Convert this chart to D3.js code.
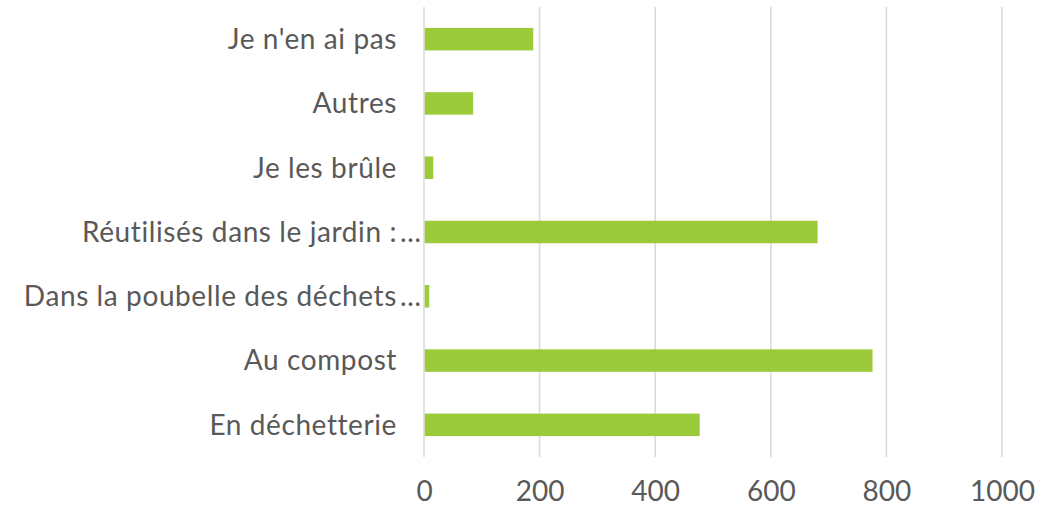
<!DOCTYPE html>
<html>
<head>
<meta charset="utf-8">
<script src="https://cdn.jsdelivr.net/npm/d3@7"></script>
<style>
  html, body { margin: 0; padding: 0; background: #fff; }
  svg text { font-family: Lato, "Noto Sans", sans-serif; fill: #595959; }
</style>
</head>
<body>
<div id="chart"></div>
<script>
const categories = ["Je n'en ai pas", "Autres", "Je les brûle", "Réutilisés dans le jardin :…",
                    "Dans la poubelle des déchets…", "Au compost", "En déchetterie"];
const values = [189, 85, 16, 681, 9, 776, 477];
const xTicks = [0, 200, 400, 600, 800, 1000];

const W = 1063, H = 512;
const margin = {top: 7, right: 61, bottom: 55, left: 424};
const width = W - margin.left - margin.right;
const height = H - margin.top - margin.bottom;

const svg = d3.select("#chart").append("svg")
    .attr("width", W).attr("height", H);
const g = svg.append("g").attr("transform", `translate(${margin.left},${margin.top})`);

const x = d3.scaleLinear().domain([0, 1000]).range([0, width]);
const y = d3.scaleBand().domain(categories).range([0, height]).paddingInner(0.65).paddingOuter(0.325);

// vertical gridlines
g.selectAll(".grid").data(xTicks).enter().append("line")
    .attr("x1", d => x(d)).attr("x2", d => x(d))
    .attr("y1", 0).attr("y2", height)
    .attr("stroke", "#d9d9d9").attr("stroke-width", 1.5);

// bars
g.selectAll(".bar").data(categories).enter().append("rect")
    .attr("x", x(0) + 0.75)
    .attr("y", d => y(d))
    .attr("width", (d, i) => Math.max(0, x(values[i]) - x(0) - 0.75))
    .attr("height", y.bandwidth())
    .attr("fill", "#9bcb3b");

// x tick labels
const xAxis = g.append("g").attr("transform", `translate(0,${height})`)
    .call(d3.axisBottom(x).tickValues(xTicks).tickSize(0).tickPadding(24).tickFormat(d3.format("d")));
xAxis.select(".domain").remove();
xAxis.selectAll("text").style("font-size", "28px").attr("fill", "#595959")
    .style("font-family", "Lato, 'Noto Sans', sans-serif");

// category labels (truncated ones hang their ellipsis past the text edge)
const labelX = -27;
categories.forEach(c => {
    const cut = c.endsWith("…");
    const main = cut ? c.slice(0, -1) : c;
    const cy = y(c) + y.bandwidth() / 2;
    g.append("text")
        .attr("x", labelX).attr("y", cy).attr("dy", "0.35em")
        .attr("text-anchor", "end").style("font-size", "28px")
        .style("letter-spacing", "0.6px")
        .text(main);
    if (cut) {
        g.append("text")
            .attr("x", labelX + 3).attr("y", cy).attr("dy", "0.35em")
            .style("font-size", "28px").style("letter-spacing", "1.5px")
            .text("…");
    }
});
</script>
</body>
</html>
